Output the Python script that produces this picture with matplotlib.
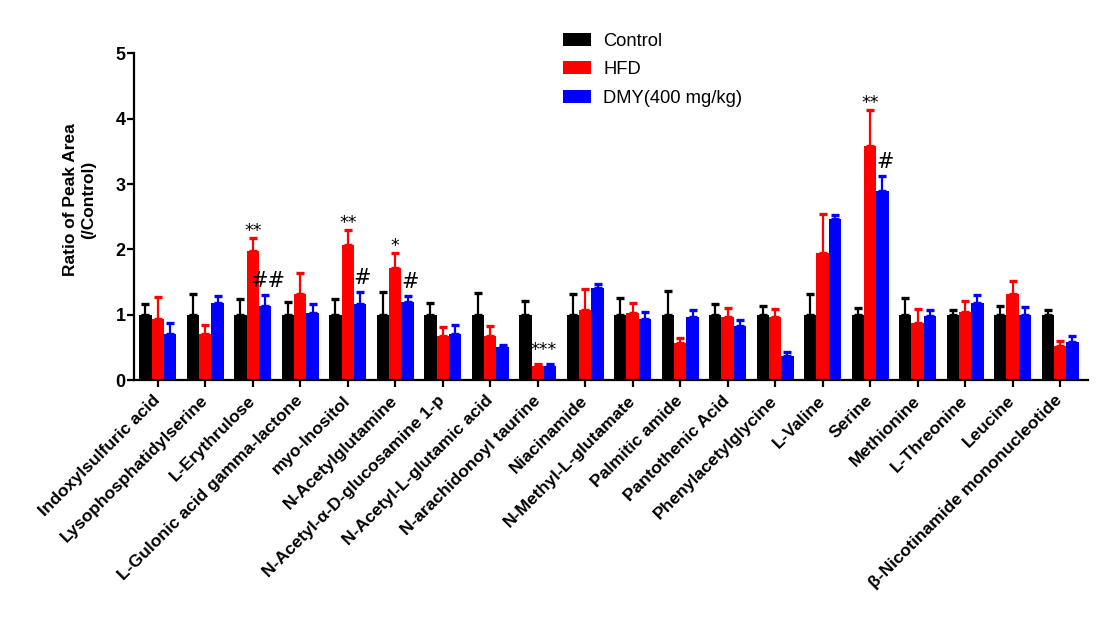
import matplotlib
matplotlib.use("Agg")
import matplotlib.pyplot as plt
from matplotlib.patches import Patch
import numpy as np

plt.rcParams["font.family"] = ["Liberation Sans", "DejaVu Sans"]

metabolites = [
    "Indoxylsulfuric acid", "Lysophosphatidylserine", "L-Erythrulose",
    "L-Gulonic acid gamma-lactone", "myo-Inositol", "N-Acetylglutamine",
    "N-Acetyl-α-D-glucosamine 1-p", "N-Acetyl-L-glutamic acid",
    "N-arachidonoyl taurine", "Niacinamide", "N-Methyl-L-glutamate",
    "Palmitic amide", "Pantothenic Acid", "Phenylacetylglycine", "L-Valine",
    "Serine", "Methionine", "L-Threonine", "Leucine",
    "β-Nicotinamide mononucleotide",
]
groups = ["Control", "HFD", "DMY(400 mg/kg)"]
colors = ["#000000", "#ff0000", "#0000ff"]

control = [1.0] * 20
control_sd = [0.17, 0.32, 0.24, 0.20, 0.24, 0.35, 0.18, 0.33, 0.21, 0.32,
              0.25, 0.36, 0.16, 0.13, 0.31, 0.11, 0.25, 0.08, 0.13, 0.08]
hfd = [0.94, 0.70, 1.97, 1.31, 2.07, 1.71, 0.67, 0.68, 0.22, 1.07,
       1.03, 0.57, 0.96, 0.97, 1.94, 3.59, 0.87, 1.04, 1.31, 0.52]
hfd_sd = [0.33, 0.14, 0.20, 0.33, 0.22, 0.23, 0.14, 0.14, 0.02, 0.33,
          0.15, 0.07, 0.14, 0.12, 0.60, 0.54, 0.22, 0.17, 0.21, 0.08]
dmy = [0.71, 1.18, 1.14, 1.02, 1.16, 1.20, 0.70, 0.50, 0.22, 1.41,
       0.93, 0.96, 0.82, 0.37, 2.46, 2.90, 0.98, 1.18, 0.99, 0.58]
dmy_sd = [0.165, 0.11, 0.16, 0.15, 0.19, 0.09, 0.14, 0.04, 0.02, 0.06,
          0.11, 0.12, 0.10, 0.06, 0.07, 0.22, 0.10, 0.12, 0.13, 0.09]

# significance marks: (metabolite index, group index, text)
marks = [
    (2, 1, "**"), (2, 2, "##"),
    (4, 1, "**"), (4, 2, "#"),
    (5, 1, "*"), (5, 2, "#"),
    (15, 1, "**"), (15, 2, "#"),
]

means = [control, hfd, dmy]
sds = [control_sd, hfd_sd, dmy_sd]

fig = plt.figure(figsize=(11.03, 6.22), dpi=100)
ax = fig.add_axes([0.1215, 0.389, 0.865, 0.525])

x = np.arange(len(metabolites))
w = 0.26
for k in range(3):
    pos = x + (k - 1) * w
    m = np.array(means[k])
    s = np.array(sds[k])
    ax.bar(pos, m, width=w, color=colors[k], linewidth=0, zorder=2)
    ax.errorbar(pos, m, yerr=[np.zeros_like(s), s], fmt="none",
                ecolor=colors[k], elinewidth=1.6, capsize=2.6, capthick=2.4,
                zorder=1)

for i, k, txt in marks:
    top = means[k][i] + sds[k][i]
    if txt.startswith("#"):
        ax.text(i + (k - 1) * w + 0.05, top + 0.06, txt, ha="center",
                va="bottom", fontsize=15, family="DejaVu Sans")
    else:
        ax.text(i + (k - 1) * w, top - 0.03, txt, ha="center", va="bottom",
                fontsize=12.5, family="DejaVu Sans")

# N-arachidonoyl taurine: one mark over the HFD/DMY pair
ax.text(8 + w / 2, hfd[8] + hfd_sd[8] + 0.08, "***", ha="center",
        va="bottom", fontsize=12.5, family="DejaVu Sans")

ax.set_xlim(-0.5, 19.59)
ax.set_ylim(0, 5)
ax.set_yticks([0, 1, 2, 3, 4, 5])
ax.set_xticks(x)
ax.set_xticklabels(metabolites, rotation=45, ha="right", va="center",
                   rotation_mode="anchor", fontsize=12.6, fontweight="bold")
for lab in ax.get_yticklabels():
    lab.set_fontweight("bold")
    lab.set_fontsize(13)
ax.tick_params(axis="x", length=5, width=1.6, pad=8)
ax.tick_params(axis="y", length=5, width=1.6, pad=1)
for side in ["top", "right"]:
    ax.spines[side].set_visible(False)
for side in ["left", "bottom"]:
    ax.spines[side].set_linewidth(1.6)

ax.set_ylabel("Ratio of Peak Area\n(/Control)", fontsize=12.5,
              fontweight="bold")
ax.yaxis.set_label_coords(-0.04, 0.552)

handles = [Patch(facecolor=c, edgecolor="none") for c in colors]
fig.legend(handles, groups, loc="upper left", bbox_to_anchor=(0.510, 0.947),
           frameon=False, fontsize=13.2, handlelength=1.53, handleheight=0.71,
           handletextpad=0.7, labelspacing=0.62, borderpad=0,
           borderaxespad=0)

fig.savefig("out.png", dpi=100)
